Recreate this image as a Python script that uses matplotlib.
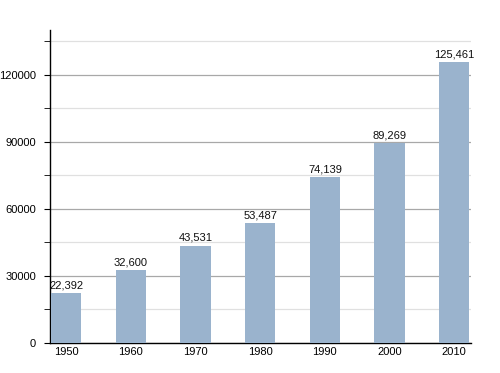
import matplotlib
matplotlib.use("Agg")
import matplotlib.pyplot as plt
from matplotlib.ticker import MultipleLocator

years = ["1950", "1960", "1970", "1980", "1990", "2000", "2010"]
population = [22392, 32600, 43531, 53487, 74139, 89269, 125461]
labels = ["22,392", "32,600", "43,531", "53,487", "74,139", "89,269", "125,461"]

plt.rcParams['font.family'] = ['Liberation Sans', 'DejaVu Sans']
fig = plt.figure(figsize=(5, 3.73), dpi=100)
ax = fig.add_axes([0.1, 0.0804, 0.842, 0.8392])

x = list(range(len(years)))
bars = ax.bar(x, population, width=0.47, color="#9ab3cd", zorder=3)
for xi, v, lab in zip(x, population, labels):
    ax.annotate(lab, (xi, v), xytext=(0, 2), textcoords="offset points",
                ha="center", va="bottom", fontsize=8, color="#111111")

ax.set_xlim(-0.25, 6.26)
ax.set_ylim(0, 140000)
ax.yaxis.set_major_locator(MultipleLocator(30000))
ax.yaxis.set_minor_locator(MultipleLocator(15000))
ax.grid(axis="y", which="major", color="#a8a8a8", linewidth=0.9, zorder=1)
ax.grid(axis="y", which="minor", color="#e0e0e0", linewidth=0.9, zorder=1)
ax.set_xticks(x)
ax.set_xticklabels(years)
ax.tick_params(axis="x", length=0, labelsize=8, pad=3)
ax.tick_params(axis="y", which="major", length=4, labelsize=8, pad=6)
ax.tick_params(axis="y", which="minor", length=4)
for s in ("top", "right"):
    ax.spines[s].set_visible(False)
ax.spines["left"].set_linewidth(1.0)
ax.spines["bottom"].set_linewidth(1.0)

fig.savefig("out.png", dpi=100)
